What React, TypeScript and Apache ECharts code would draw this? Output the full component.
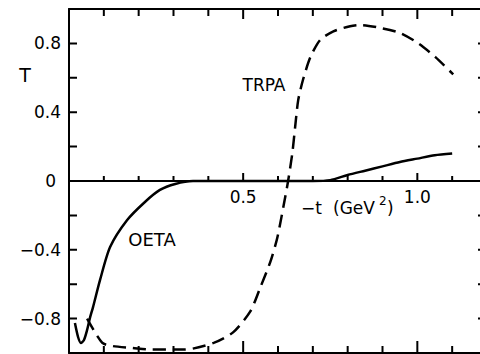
import React, { useEffect, useRef } from "react";
import * as echarts from "echarts";

// OETA (solid)
const oetaX = [0.017, 0.026, 0.034, 0.043, 0.052, 0.06, 0.069, 0.089, 0.118, 0.167, 0.218, 0.261, 0.305, 0.356, 0.5, 0.7, 0.75, 0.8, 0.85, 0.9, 0.95, 1.0, 1.05, 1.1];
const oetaY = [-0.826, -0.907, -0.942, -0.924, -0.866, -0.797, -0.733, -0.576, -0.384, -0.227, -0.122, -0.052, -0.017, 0, 0, 0, 0.005, 0.035, 0.06, 0.085, 0.11, 0.13, 0.15, 0.16];

// TRPA (dashed)
const trpaX = [0.052, 0.095, 0.126, 0.181, 0.233, 0.296, 0.333, 0.417, 0.471, 0.52, 0.549, 0.578, 0.598, 0.621, 0.629, 0.641, 0.649, 0.658, 0.672, 0.693, 0.721, 0.759, 0.807, 0.836, 0.894, 0.951, 1.003, 1.052, 1.103];
const trpaY = [-0.8, -0.94, -0.96, -0.97, -0.98, -0.98, -0.98, -0.94, -0.88, -0.76, -0.62, -0.47, -0.33, -0.09, 0.0, 0.16, 0.31, 0.47, 0.59, 0.72, 0.82, 0.87, 0.9, 0.907, 0.89, 0.86, 0.8, 0.72, 0.62];

// tick positions
const xTicks = [0.1, 0.2, 0.3, 0.4, 0.5, 0.6, 0.7, 0.8, 0.9, 1.0, 1.1];
const xMajorTicks = [0.5, 1.0];
const yTicks = [-0.8, -0.6, -0.4, -0.2, 0.2, 0.4, 0.6, 0.8];

const yTickValues = [0.8, 0.4, 0, -0.4, -0.8];
const yTickLabels = ["0.8", "0.4", "0", "−0.4", "−0.8"];
const xTickValues = [0.5, 1.0];
const xTickLabels = ["0.5", "1.0"];

const FONT = "DejaVu Sans";
const BLACK = "#000";
const X_MIN = 0;
const X_MAX = 1.2;
const Y_MIN = -1;
const Y_MAX = 1;
const GRID_W = 418;
const GRID_H = 344;

function pick(values: number[], labels: string[], v: number): string {
  for (let i = 0; i < values.length; i++) {
    if (Math.abs(values[i] - v) < 1e-6) return labels[i];
  }
  return "";
}

function buildTicks(): (number | null)[][] {
  const dyPx = (Y_MAX - Y_MIN) / GRID_H;
  const dxPx = (X_MAX - X_MIN) / GRID_W;
  const out: (number | null)[][] = [];
  const seg = (a: number[], b: number[]) => {
    out.push(a, b, [null, null]);
  };
  for (const v of xTicks) {
    const major = xMajorTicks.some((m) => Math.abs(m - v) < 1e-6);
    seg([v, Y_MIN], [v, Y_MIN + (major ? 12 : 7) * dyPx]);
    seg([v, Y_MAX], [v, Y_MAX - (major ? 10 : 7) * dyPx]);
    seg([v, 0], [v, (major ? 8 : 5) * dyPx]);
  }
  for (const v of yTicks) {
    seg([X_MIN, v], [X_MIN + 8 * dxPx, v]);
    seg([X_MAX, v], [X_MAX - 9 * dxPx, v]);
  }
  return out;
}

export default function App() {
  const ref = useRef<HTMLDivElement>(null);
  useEffect(() => {
    document.body.style.margin = "0";
    if (!ref.current) return;
    const chart = echarts.init(ref.current, undefined, { renderer: "svg" });

    const baseX = {
      type: "value" as const,
      min: X_MIN,
      max: X_MAX,
      splitLine: { show: false },
      axisTick: { show: false },
      axisLabel: { show: false },
    };
    const lineOn = { show: true, onZero: false, lineStyle: { color: BLACK, width: 2 } };
    const zeroOffset = -172;
    const option: any = {
      animation: false,
      backgroundColor: "#fff",
      grid: { left: 69, top: 9, width: GRID_W, height: GRID_H, containLabel: false, outerBoundsMode: "none" },
      xAxis: [
        { ...baseX, position: "bottom", interval: 0.1, axisLine: lineOn },
        { ...baseX, position: "top", interval: 0.1, axisLine: lineOn },
        {
          ...baseX,
          position: "bottom",
          offset: zeroOffset,
          interval: 0.5,
          axisLine: lineOn,
          axisLabel: {
            show: true,
            margin: 7,
            color: BLACK,
            fontFamily: FONT,
            fontSize: 17,
            formatter: (v: number) => pick(xTickValues, xTickLabels, v),
          },
        },
      ],
      yAxis: [
        {
          type: "value",
          position: "left",
          min: Y_MIN,
          max: Y_MAX,
          interval: 0.2,
          splitLine: { show: false },
          axisLine: lineOn,
          axisTick: { show: false },
          axisLabel: {
            show: true,
            margin: 8,
            color: BLACK,
            fontFamily: FONT,
            fontSize: 17,
            formatter: (v: number) => {
              const s = pick(yTickValues, yTickLabels, v);
              return s === "0" ? "{z|0}" : s;
            },
            rich: { z: { fontFamily: FONT, fontSize: 17, color: BLACK, padding: [0, 5, 0, 0] } },
          },
        },
        {
          type: "value",
          position: "right",
          min: Y_MIN,
          max: Y_MAX,
          interval: 0.2,
          splitLine: { show: false },
          axisLine: lineOn,
          axisTick: { show: false },
          axisLabel: { show: false },
        },
      ],
      series: [
        {
          name: "ticks",
          type: "line",
          xAxisIndex: 0,
          yAxisIndex: 0,
          clip: false,
          silent: true,
          showSymbol: false,
          connectNulls: false,
          data: buildTicks(),
          lineStyle: { color: BLACK, width: 2 },
        },
        {
          name: "OETA",
          type: "line",
          xAxisIndex: 0,
          yAxisIndex: 0,
          showSymbol: false,
          smooth: 0.25,
          data: oetaX.map((x, i) => [x, oetaY[i]]),
          lineStyle: { color: BLACK, width: 2.5 },
        },
        {
          name: "TRPA",
          type: "line",
          xAxisIndex: 0,
          yAxisIndex: 0,
          showSymbol: false,
          smooth: 0.25,
          data: trpaX.map((x, i) => [x, trpaY[i]]),
          lineStyle: { color: BLACK, width: 2.5, type: [13, 7] },
        },
      ],
      graphic: [
        { type: "text", x: 25, y: 75, style: { text: "T", fontFamily: FONT, fontSize: 19, fill: BLACK, align: "center", verticalAlign: "middle" } },
        { type: "text", x: 264, y: 85, style: { text: "TRPA", fontFamily: FONT, fontSize: 17, fill: BLACK, align: "center", verticalAlign: "middle" } },
        { type: "text", x: 152, y: 239, style: { text: "OETA", fontFamily: FONT, fontSize: 18, fill: BLACK, align: "center", verticalAlign: "middle" } },
        { type: "text", x: 301, y: 208, style: { text: "−t", fontFamily: FONT, fontSize: 17, fill: BLACK, align: "left", verticalAlign: "middle" } },
        { type: "text", x: 333, y: 208, style: { text: "(GeV", fontFamily: FONT, fontSize: 17, fill: BLACK, align: "left", verticalAlign: "middle" } },
        { type: "text", x: 379, y: 201, style: { text: "2", fontFamily: FONT, fontSize: 12, fill: BLACK, align: "left", verticalAlign: "middle" } },
        { type: "text", x: 387, y: 208, style: { text: ")", fontFamily: FONT, fontSize: 17, fill: BLACK, align: "left", verticalAlign: "middle" } },
      ],
    };
    chart.setOption(option);
    return () => chart.dispose();
  }, []);
  return <div ref={ref} style={{ width: 480, height: 354 }} />;
}
